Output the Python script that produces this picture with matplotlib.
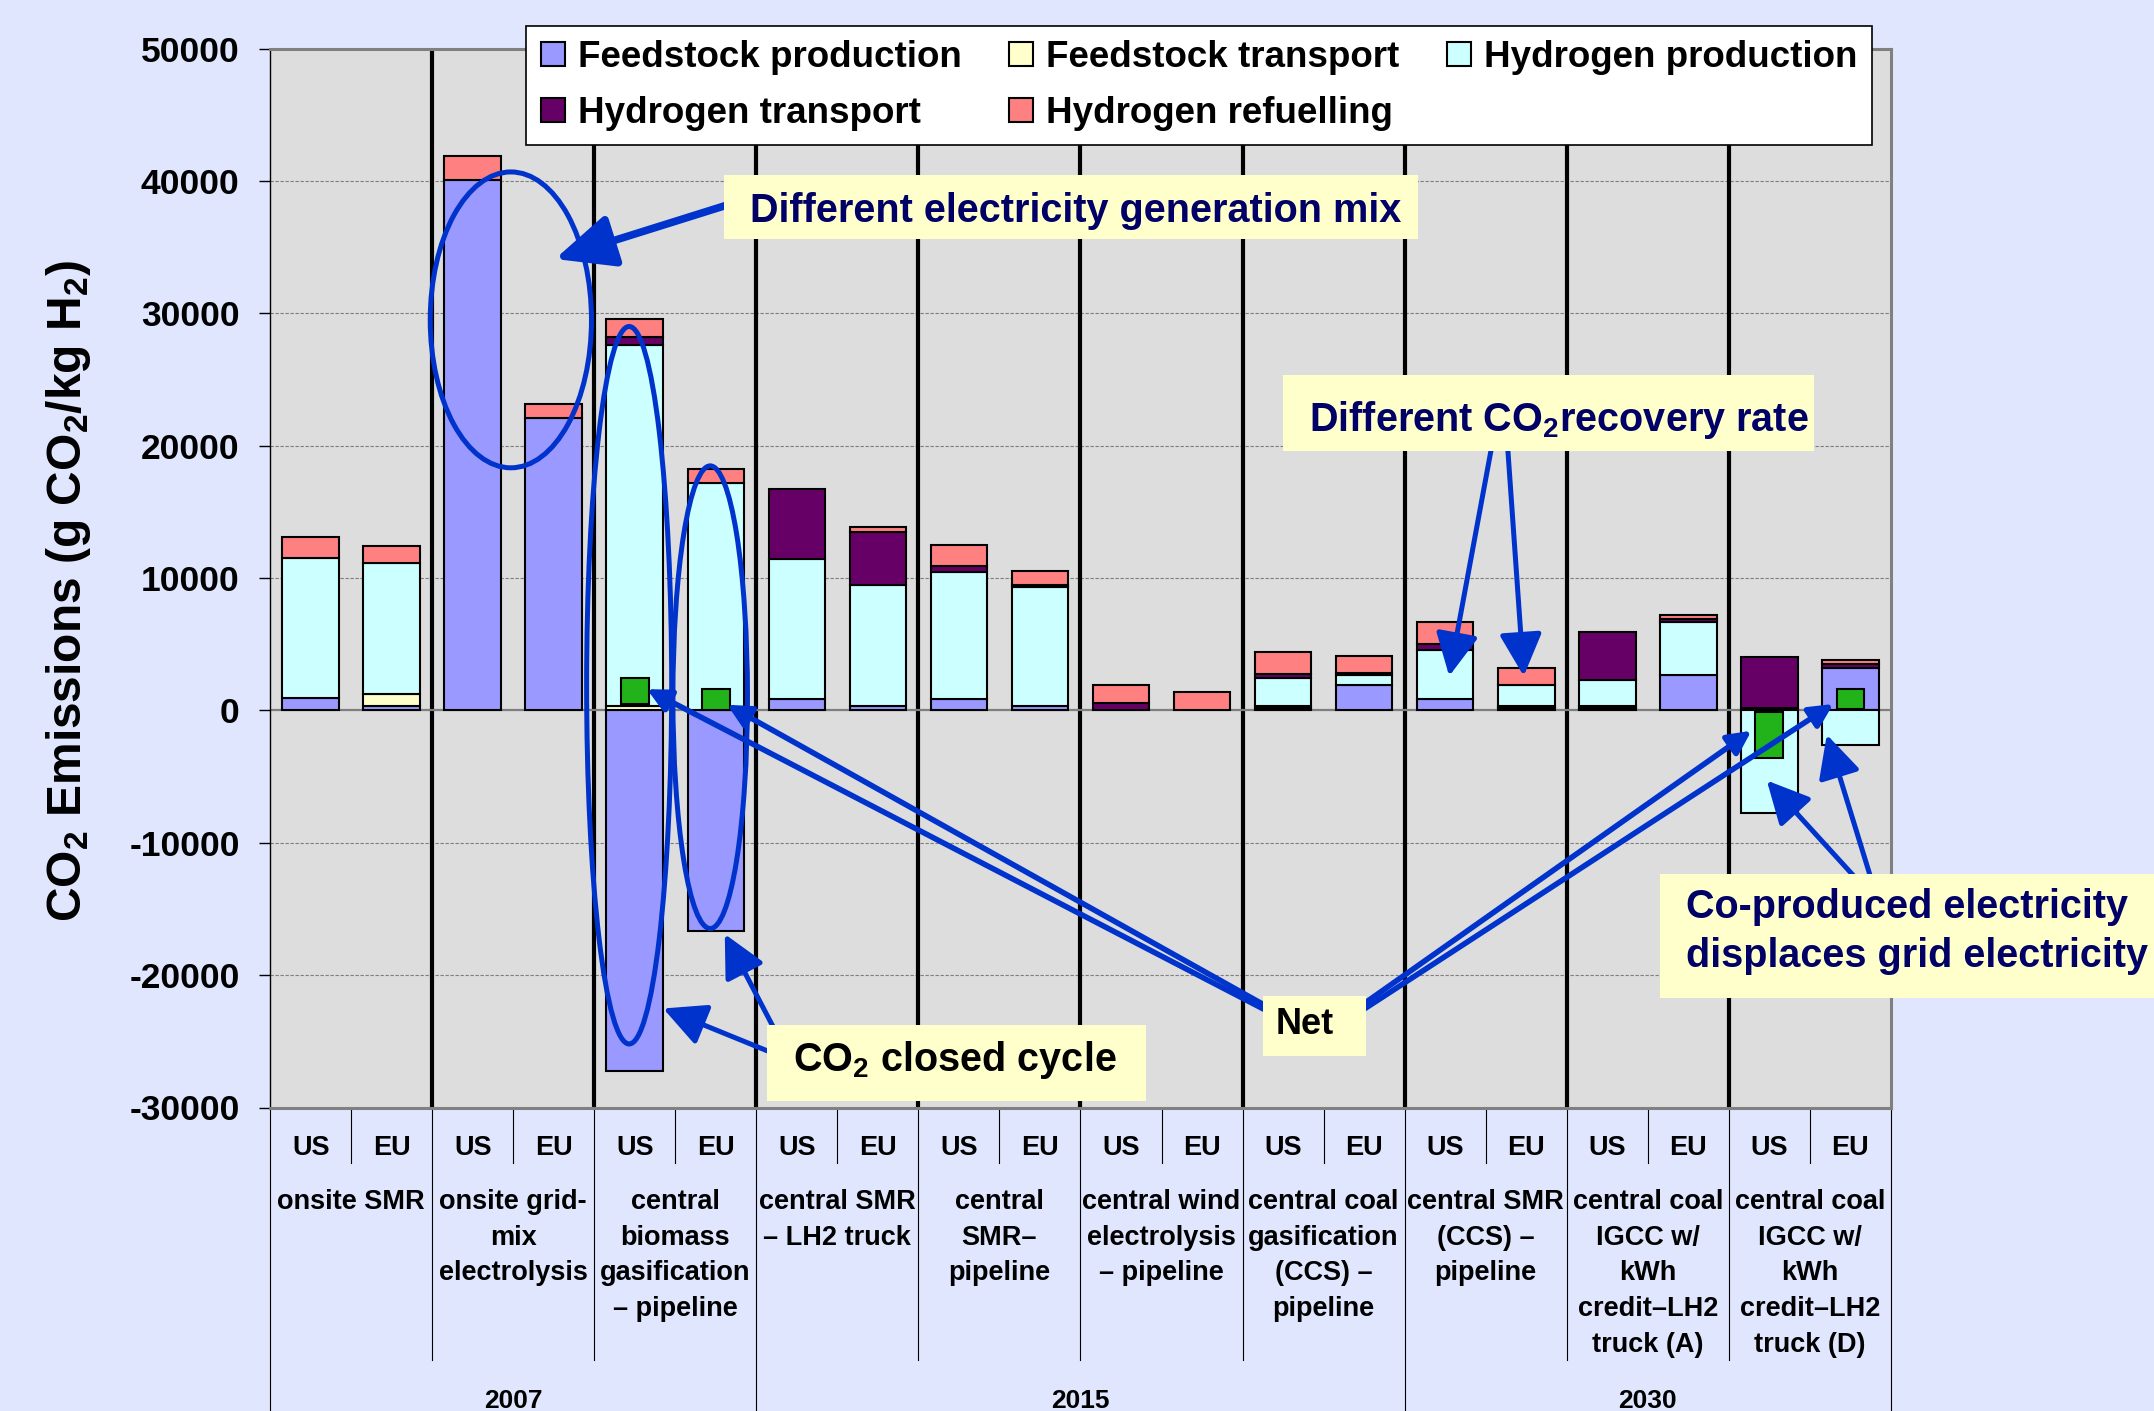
import numpy as np
import matplotlib
matplotlib.use('Agg')
import matplotlib.pyplot as plt
from matplotlib.patches import Patch, Ellipse, Rectangle
from matplotlib.lines import Line2D

plt.rcParams['font.family'] = ['Liberation Sans', 'DejaVu Sans']
plt.rcParams['font.weight'] = 'bold'
plt.rcParams['mathtext.default'] = 'regular'
plt.rcParams['axes.unicode_minus'] = False

# ---------------- data ----------------
regions = ['US', 'EU'] * 10
pathways = ['onsite SMR',
            'onsite grid-\nmix\nelectrolysis',
            'central\nbiomass\ngasification\n– pipeline',
            'central SMR\n– LH2 truck',
            'central\nSMR–\npipeline',
            'central wind\nelectrolysis\n– pipeline',
            'central coal\ngasification\n(CCS) –\npipeline',
            'central SMR\n(CCS) –\npipeline',
            'central coal\nIGCC w/\nkWh\ncredit–LH2\ntruck (A)',
            'central coal\nIGCC w/\nkWh\ncredit–LH2\ntruck (D)']
years = ['2007', '2015', '2030']
pathways_per_year = [3, 4, 3]

series_names = ['Feedstock production', 'Feedstock transport', 'Hydrogen production',
                'Hydrogen transport', 'Hydrogen refuelling']
feedstock_production = [900, 300, 40100, 22100, -27250, -16700, 850, 300, 850, 300,
                        0, 0, 200, 1900, 850, 200, 200, 2650, 200, 3200]
feedstock_transport = [0, 900, 0, 0, 300, 0, 0, 0, 0, 0,
                       0, 0, 100, 0, 0, 100, 100, 0, 0, 0]
hydrogen_production = [10600, 9950, 0, 0, 27280, 17150, 10550, 9200, 9600, 9000,
                       0, 0, 2150, 750, 3700, 1600, 2000, 4000, -7750, -2600]
hydrogen_transport = [0, 0, 0, 0, 600, 0, 5300, 4000, 420, 150,
                      550, 0, 290, 200, 460, 0, 3630, 230, 3830, 300]
hydrogen_refuelling = [1600, 1250, 1750, 1050, 1400, 1100, 0, 360, 1600, 1070,
                       1400, 1380, 1670, 1240, 1670, 1300, 0, 350, 0, 330]
net_low = [None, None, None, None, 500, 0, None, None, None, None,
           None, None, None, None, None, None, None, None, -3570, 90]
net_high = [None, None, None, None, 2440, 1580, None, None, None, None,
            None, None, None, None, None, None, None, None, -100, 1610]
yticks = [-30000, -20000, -10000, 0, 10000, 20000, 30000, 40000, 50000]

colors = ['#9999FF', '#FFFFCC', '#CCFFFF', '#660066', '#FF8080']
net_color = '#22B31A'
blue = '#0033CC'
navy = '#000066'
note_fill = '#FFFFCC'

W, H = 2154, 1411
def fx(x):
    return x / W
def fy(y):
    return 1 - y / H

fig = plt.figure(figsize=(W / 100, H / 100), dpi=100, facecolor='#DFE6FD')
ax = fig.add_axes([fx(270.2), fy(1107.5), 1620.6 / W, 1059 / H])
ax.set_facecolor('#DDDDDD')

x = np.arange(len(regions))
series = [feedstock_production, feedstock_transport, hydrogen_production,
          hydrogen_transport, hydrogen_refuelling]
pos_base = np.zeros(len(x))
neg_base = np.zeros(len(x))
for vals, c in zip(series, colors):
    v = np.array(vals, float)
    p = np.where(v > 0, v, 0.0)
    n = np.where(v < 0, v, 0.0)
    mp = p > 0
    mn = n < 0
    ax.bar(x[mp], p[mp], bottom=pos_base[mp], width=0.7, color=c,
           edgecolor='black', linewidth=1.5, zorder=3)
    ax.bar(x[mn], n[mn], bottom=neg_base[mn], width=0.7, color=c,
           edgecolor='black', linewidth=1.5, zorder=3)
    pos_base += p
    neg_base += n

nl = np.array([np.nan if v is None else v for v in net_low], float)
nh = np.array([np.nan if v is None else v for v in net_high], float)
mk = ~np.isnan(nl)
ax.bar(x[mk], nh[mk] - nl[mk], bottom=nl[mk], width=0.34, color=net_color,
       edgecolor='black', linewidth=1.5, zorder=4)

ax.set_xlim(-0.5, len(x) - 0.5)
ax.set_ylim(yticks[0], yticks[-1])
ax.set_yticks(yticks)
ax.set_yticklabels([str(t) for t in yticks])
ax.tick_params(axis='y', labelsize=25.5, length=8, width=1, pad=14, direction='out')
ax.set_xticks([])
for t in yticks[1:-1]:
    if t == 0:
        ax.axhline(0, color='#7F7F7F', lw=1.6, zorder=2.5)
    else:
        ax.axhline(t, color='#7F7F7F', lw=0.8, ls=(0, (3, 1.5)), zorder=1)

# group separators (thick)
for b in np.arange(1.5, len(x) - 1, 2):
    ax.axvline(b, color='black', lw=3.0, zorder=2)

ax.spines['left'].set_color('black')
ax.spines['left'].set_linewidth(1)
for s in ['top', 'right', 'bottom']:
    ax.spines[s].set_color('#808080')
    ax.spines[s].set_linewidth(2.2)

# ---------------- multi-level category axis ----------------
tr = ax.get_xaxis_transform()
def yax(Y):
    return (1107.5 - Y) / 1059.0

for i, r in enumerate(regions):
    ax.text(i, yax(1155), r, transform=tr, ha='center', va='baseline',
            fontsize=19.5, clip_on=False)
for b in np.arange(0.5, len(x), 2):
    ax.add_line(Line2D([b, b], [0, yax(1163)], transform=tr, color='black',
                       lw=0.8, clip_on=False))
for g, name in enumerate(pathways):
    for k, line in enumerate(name.split('\n')):
        ax.text(2 * g + 0.5, yax(1209 + 35.7 * k), line, transform=tr,
                ha='center', va='baseline', fontsize=19.5, clip_on=False)
year_edges = np.cumsum([0] + pathways_per_year) * 2 - 0.5
for b in np.arange(1.5, len(x) - 1, 2):
    if b in year_edges:
        continue
    ax.add_line(Line2D([b, b], [0, yax(1360)], transform=tr, color='black',
                       lw=0.8, clip_on=False))
for b in year_edges:
    ax.add_line(Line2D([b, b], [0, yax(1411)], transform=tr, color='black',
                       lw=0.8, clip_on=False))
for j, yr in enumerate(years):
    c = (year_edges[j] + year_edges[j + 1]) / 2
    ax.text(c, yax(1408), yr, transform=tr, ha='center', va='baseline',
            fontsize=19, clip_on=False)

fig.text(fx(69), fy(591), r'CO$_2$ Emissions (g CO$_2$/kg H$_2$)', rotation=90,
         fontsize=34.5, ha='center', va='center')

# ---------------- legend ----------------
handles = [Patch(facecolor=c, edgecolor='black', linewidth=1.5) for c in colors]
order = [0, 3, 1, 4, 2]
leg = fig.legend([handles[i] for i in order], [series_names[i] for i in order],
                 loc='center', bbox_to_anchor=(fx(526), fy(144), (1872 - 526) / W, (144 - 27) / H),
                 mode='expand', ncol=3, fontsize=26.5, frameon=True, fancybox=False,
                 framealpha=1, edgecolor='black', borderaxespad=0, borderpad=0.4,
                 labelspacing=0.55, handlelength=0.65, handleheight=0.62,
                 handletextpad=0.35, columnspacing=0.8)
leg.get_frame().set_linewidth(1.2)

# ---------------- ellipses ----------------
for (cx, cy, w, h) in [(2.47, 29500, 1.99, 22350), (3.93, 1900, 1.05, 54200),
                       (4.93, 995, 0.92, 34950)]:
    ax.add_patch(Ellipse((cx, cy), w, h, fill=False, edgecolor=blue, lw=3.6,
                         zorder=6, clip_on=False))

# ---------------- arrows ----------------
def arrow(tail_px, tip_data, lw, m, hl=1.0, hw=0.5):
    ax.annotate('', xy=tip_data, xycoords='data',
                xytext=(fx(tail_px[0]), fy(tail_px[1])), textcoords='figure fraction',
                arrowprops=dict(arrowstyle=f'-|>,head_length={hl},head_width={hw}',
                                mutation_scale=m, color=blue, lw=lw,
                                shrinkA=0, shrinkB=0),
                annotation_clip=False, zorder=7)

arrow((740, 201), (3.016, 34100), 5.5, 36, 1.0, 0.45)
arrow((780, 1056), (4.35, -22520), 3.6, 26)
arrow((780, 1040), (5.11, -16900), 3.6, 26)
arrow((1492, 445), (14.05, 2590), 3.6, 26)
arrow((1507.5, 445), (14.97, 2590), 3.6, 26)
arrow((1275, 1015), (4.15, 1600), 4.0, 14)
arrow((1275, 1011), (5.14, 420), 4.0, 14)
arrow((1355, 1010), (17.78, -1540), 4.0, 14)
arrow((1355, 1015), (18.79, 480), 4.0, 14)
arrow((1862, 885), (17.97, -5300), 3.6, 26)
arrow((1873, 885), (18.71, -1834), 3.6, 26)

# ---------------- note boxes ----------------
def note(x0, y0, x1, y1, lines, tx, baselines, color, size):
    fig.add_artist(Rectangle((fx(x0), fy(y1)), (x1 - x0) / W, (y1 - y0) / H,
                             transform=fig.transFigure, facecolor=note_fill,
                             edgecolor='none', zorder=10))
    for s, bl in zip(lines, baselines):
        fig.text(fx(tx), fy(bl), s, ha='left', va='baseline', color=color,
                 fontsize=size, zorder=11)

note(724, 175, 1418, 239, ['Different electricity generation mix'], 750, [221.7], navy, 28.5)
note(1282.5, 375, 1813.6, 450.7, ['Different CO$_2$recovery rate'], 1308.6, [431], navy, 28.5)
note(1262.6, 995.6, 1366, 1055.7, ['Net'], 1275.4, [1034], 'black', 26)
note(766.7, 1025, 1146, 1100.7, ['CO$_2$ closed cycle'], 793, [1071], 'black', 28.5)
note(1660, 874, 2154, 997.5, ['Co-produced electricity', 'displaces grid electricity'],
     1685.5, [918.3, 966.9], navy, 28.5)

fig.savefig('out.png', dpi=100, facecolor=fig.get_facecolor())
